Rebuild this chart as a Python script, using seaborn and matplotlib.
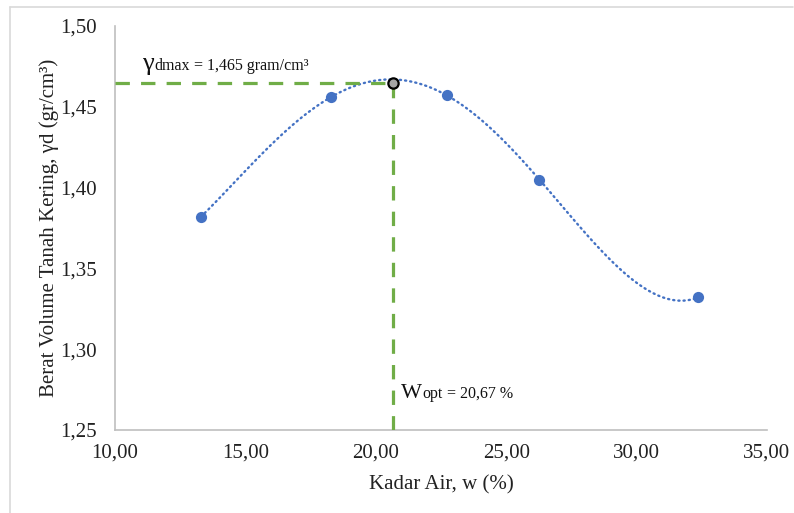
import matplotlib
matplotlib.use("Agg")
import matplotlib.pyplot as plt
import seaborn as sns
import pandas as pd
from matplotlib.offsetbox import TextArea, HPacker, AnnotationBbox
from matplotlib.lines import Line2D
from matplotlib.ticker import FuncFormatter

# Data
kadar_air = [13.30, 18.28, 22.73, 26.27, 32.36]
berat_volume = [1.382, 1.456, 1.457, 1.405, 1.332]
w_opt = 20.67
gamma_dmax = 1.465

x_ticks = [10, 15, 20, 25, 30, 35]
y_ticks = [1.25, 1.30, 1.35, 1.40, 1.45, 1.50]

df = pd.DataFrame({"w": kadar_air, "gd": berat_volume})

sns.set_theme(style="white")
plt.rcParams["font.family"] = ["Liberation Serif", "DejaVu Serif"]

fig = plt.figure(figsize=(7.94, 5.13), dpi=100)
ax = fig.add_axes([115 / 794, 1 - 430 / 513, (767 - 115) / 794, (430 - 26) / 513])

blue = "#4472C4"
green = "#70AD47"

# trendline (polynomial order 4)
sns.regplot(data=df, x="w", y="gd", order=4, ci=None, scatter=False, truncate=True,
            ax=ax, line_kws=dict(color=blue, lw=1.7, ls=(0, (0.5, 1.7)), dash_capstyle="round"))
# points
sns.scatterplot(data=df, x="w", y="gd", ax=ax, color=blue, s=65, edgecolor=blue, linewidth=0, zorder=4)

# dashed guide lines
ax.plot([x_ticks[0], w_opt], [gamma_dmax, gamma_dmax], color=green, lw=2.3, ls=(0, (4.5, 3.5)), zorder=3)
ax.plot([w_opt, w_opt], [y_ticks[0], gamma_dmax], color=green, lw=2.3, ls=(0, (4.5, 3.5)), zorder=3)
ax.scatter([w_opt], [gamma_dmax], s=55, color="#A5A5A5", edgecolor="black", linewidth=1.6, zorder=5)

ax.set_xlim(10, 35)
ax.set_ylim(1.25, 1.50)
ax.set_xticks(x_ticks)
ax.set_yticks(y_ticks)
ax.xaxis.set_major_formatter(FuncFormatter(lambda v, p: f"{v:.2f}".replace(".", ",")))
ax.yaxis.set_major_formatter(FuncFormatter(lambda v, p: f"{v:.2f}".replace(".", ",")))
ax.tick_params(axis="both", length=0, labelsize=15, colors="#222222")
ax.tick_params(axis="y", pad=13)
ax.tick_params(axis="x", pad=10)
for s in ["top", "right"]:
    ax.spines[s].set_visible(False)
for s in ["left", "bottom"]:
    ax.spines[s].set_color("#BFBFBF")
    ax.spines[s].set_linewidth(1.2)

ax.set_xlabel("Kadar Air, w (%)", fontsize=15, color="#222222", labelpad=9)
ax.set_ylabel("Berat Volume Tanah Kering, γd (gr/cm³)", fontsize=15, color="#222222", labelpad=1)

# annotations
def label(parts, xy):
    boxes = [TextArea(t, textprops=dict(fontsize=fs, color="#111111", family=["Liberation Serif", "DejaVu Serif"])) for t, fs in parts]
    pack = HPacker(children=boxes, align="baseline", pad=0, sep=0)
    ab = AnnotationBbox(pack, xy, xycoords="data", frameon=False, box_alignment=(0, 0.5))
    ax.add_artist(ab)

label([("γ", 19), ("dmax", 11.5), (" = 1,465 gram/cm³", 11.5)], (11.05, 1.4765))
label([("W", 16), ("opt", 11.5), (" = 20,67 %", 11.5)], (20.98, 1.2725))

# figure border (top and left)
fig.add_artist(Line2D([10 / 794, 793 / 794], [1 - 7 / 513, 1 - 7 / 513], color="#D9D9D9", lw=1.2))
fig.add_artist(Line2D([10 / 794, 10 / 794], [0, 1 - 7 / 513], color="#D9D9D9", lw=1.2))

fig.savefig("out.png", dpi=100, facecolor="white")
